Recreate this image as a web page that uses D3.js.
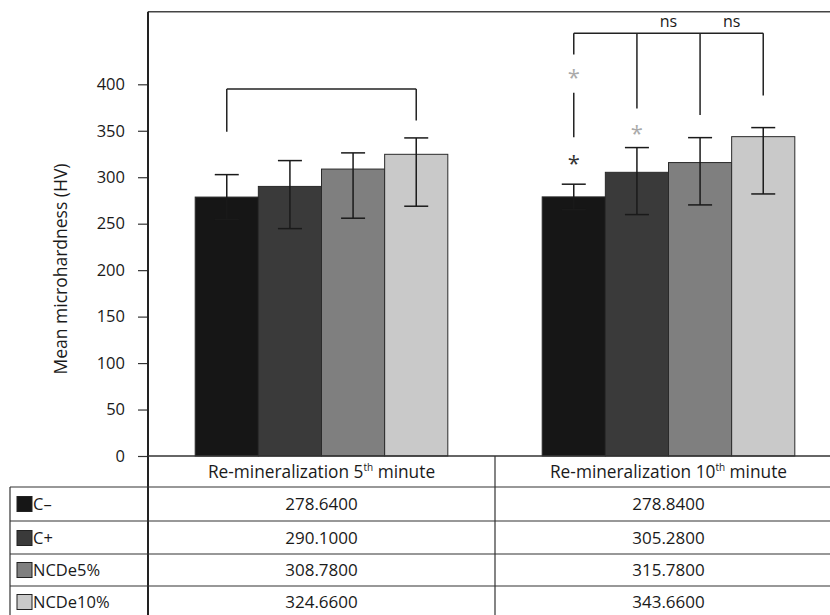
<!DOCTYPE html>
<html><head><meta charset="utf-8">
<script src="https://cdn.jsdelivr.net/npm/d3@7"></script>
<style>
body{margin:0;background:#fff;}
svg{display:block;font-family:"Open Sans",sans-serif;}
</style></head>
<body><svg id="c" width="830" height="615"></svg>
<script>
// ---- data ----
const categories = ["5th", "10th"];
const categoryLabels = [["Re-mineralization 5", "th", " minute"], ["Re-mineralization 10", "th", " minute"]];
const series = ["C\u2013", "C+", "NCDe5%", "NCDe10%"];
const colors = ["#161616", "#3a3a3a", "#7f7f7f", "#c9c9c9"];
const values5 = [278.64, 290.10, 308.78, 324.66];
const values10 = [278.84, 305.28, 315.78, 343.66];
const tableText5 = ["278.6400", "290.1000", "308.7800", "324.6600"];
const tableText10 = ["278.8400", "305.2800", "315.7800", "343.6600"];
const errUpper5 = [302.8, 317.9, 326.2, 342.3];
const errLower5 = [254.5, 244.7, 255.9, 268.8];
const errUpper10 = [292.5, 331.9, 342.6, 353.4];
const errLower10 = [265.2, 259.8, 270.2, 282.0];
const yTicks = [0, 50, 100, 150, 200, 250, 300, 350, 400];
const yLabel = "Mean microhardness (HV)";

const valuesBy = [values5, values10];
const upperBy = [errUpper5, errUpper10];
const lowerBy = [errLower5, errLower10];
const tableBy = [tableText5, tableText10];

const svg = d3.select("#c");
const y = d3.scaleLinear().domain([0, 400]).range([456, 84.3]);
const yTop = y(478);
const x0 = d3.scaleBand().domain(categories).range([148, 842]).paddingInner(0.272).paddingOuter(0.136);
const x1 = d3.scaleBand().domain(series).range([0, x0.bandwidth()]).padding(0);
const color = d3.scaleOrdinal().domain(series).range(colors);
const colStart = c => x0(c) - x0.step() * 0.136;

// frame
svg.append("line").attr("x1", 148).attr("x2", 830).attr("y1", yTop).attr("y2", yTop)
  .attr("stroke", "#444").attr("stroke-width", 1.5);

// y axis
const yAxis = d3.axisLeft(y).tickValues(yTicks).tickSize(10).tickPadding(13).tickFormat(d3.format("d"));
const ga = svg.append("g").attr("transform", "translate(148,0)").call(yAxis);
ga.select(".domain").remove();
ga.selectAll(".tick line").attr("stroke", "#333").attr("stroke-width", 1.2);
ga.selectAll(".tick text").attr("font-family", "Open Sans").attr("font-size", 16.5).attr("fill", "#1a1a1a");

svg.append("text").attr("transform", `translate(67,269) rotate(-90)`)
  .attr("text-anchor", "middle").attr("font-size", 17.5).attr("fill", "#1a1a1a").text(yLabel);

// bars
categories.forEach((c, ci) => {
  const g = svg.append("g").attr("transform", `translate(${x0(c)},0)`);
  series.forEach((s, si) => {
    const v = valuesBy[ci][si];
    g.append("rect").attr("x", x1(s)).attr("width", x1.bandwidth()).attr("y", y(v)).attr("height", y(0) - y(v))
      .attr("fill", color(s)).attr("stroke", "#2a2a2a").attr("stroke-width", 1);
  });
  series.forEach((s, si) => {
    const cx = x1(s) + x1.bandwidth() / 2;
    const hi = upperBy[ci][si], lo = lowerBy[ci][si];
    const st = "#1a1a1a";
    g.append("line").attr("x1", cx).attr("x2", cx).attr("y1", y(hi)).attr("y2", y(lo)).attr("stroke", st).attr("stroke-width", 1.5);
    [hi, lo].forEach(v => g.append("line").attr("x1", cx - 12).attr("x2", cx + 12).attr("y1", y(v)).attr("y2", y(v)).attr("stroke", st).attr("stroke-width", 1.5));
  });
});

// brackets
const bx = (c, s) => x0(c) + x1(s) + x1.bandwidth() / 2;
const lineC = (x1_, y1_, x2_, y2_) => svg.append("line").attr("x1", x1_).attr("y1", y1_).attr("x2", x2_).attr("y2", y2_)
  .attr("stroke", "#222").attr("stroke-width", 1.5);
// group 1
{
  const c = categories[0];
  const xa = bx(c, series[0]), xb = bx(c, series[3]);
  const yb = y(395);
  lineC(xa, yb, xb, yb);
  lineC(xa, yb, xa, y(349));
  lineC(xb, yb, xb, y(361));
}
// group 2
{
  const c = categories[1];
  const xs = series.map(s => bx(c, s));
  const yb = y(455);
  lineC(xs[0], yb, xs[3], yb);
  lineC(xs[0], yb, xs[0], y(432));
  lineC(xs[0], y(391), xs[0], y(343));
  lineC(xs[1], yb, xs[1], y(374));
  lineC(xs[2], yb, xs[2], y(367));
  lineC(xs[3], yb, xs[3], y(388));
  svg.append("text").attr("x", xs[0]).attr("y", y(411) + 11).attr("text-anchor", "middle").attr("font-size", 22).attr("fill", "#aaa").text("*");
  svg.append("text").attr("x", xs[0]).attr("y", y(318) + 11).attr("text-anchor", "middle").attr("font-size", 22).attr("fill", "#333").text("*");
  svg.append("text").attr("x", xs[1]).attr("y", y(351) + 11).attr("text-anchor", "middle").attr("font-size", 22).attr("fill", "#aaa").text("*");
  svg.append("text").attr("x", (xs[1] + xs[2]) / 2).attr("y", y(462)).attr("text-anchor", "middle").attr("font-size", 16).attr("fill", "#1a1a1a").text("ns");
  svg.append("text").attr("x", (xs[2] + xs[3]) / 2).attr("y", y(462)).attr("text-anchor", "middle").attr("font-size", 16).attr("fill", "#1a1a1a").text("ns");
}

// left axis line (through table)
svg.append("line").attr("x1", 148).attr("x2", 148).attr("y1", yTop).attr("y2", 615).attr("stroke", "#222").attr("stroke-width", 2);
// baseline
svg.append("line").attr("x1", 148).attr("x2", 830).attr("y1", y(0)).attr("y2", y(0)).attr("stroke", "#333").attr("stroke-width", 1.5);

// table
const rowLines = [487, 521, 554, 586];
const rowCenters = [504, 538, 570, 602];
rowLines.forEach(ry => svg.append("line").attr("x1", 10).attr("x2", 830).attr("y1", ry).attr("y2", ry).attr("stroke", "#333").attr("stroke-width", 1.2));
svg.append("line").attr("x1", 10).attr("x2", 10).attr("y1", 487).attr("y2", 615).attr("stroke", "#333").attr("stroke-width", 1.2);
svg.append("line").attr("x1", colStart(categories[1])).attr("x2", colStart(categories[1])).attr("y1", y(0)).attr("y2", 615).attr("stroke", "#333").attr("stroke-width", 1.2);

categories.forEach((c, ci) => {
  const cx = x0(c) + x0.bandwidth() / 2;
  const t = svg.append("text").attr("x", cx).attr("y", 478).attr("text-anchor", "middle").attr("font-size", 17.3).attr("fill", "#1a1a1a");
  t.append("tspan").text(categoryLabels[ci][0]);
  t.append("tspan").attr("font-size", 10).attr("dy", -7).text(categoryLabels[ci][1]);
  t.append("tspan").attr("dy", 7).text(categoryLabels[ci][2]);
  series.forEach((s, si) => {
    svg.append("text").attr("x", cx).attr("y", rowCenters[si] + 6).attr("text-anchor", "middle").attr("font-size", 17).attr("fill", "#1a1a1a").text(tableBy[ci][si]);
  });
});
series.forEach((s, si) => {
  svg.append("rect").attr("x", 17).attr("y", rowCenters[si] - 7.5).attr("width", 15).attr("height", 15)
    .attr("fill", color(s)).attr("stroke", "#222").attr("stroke-width", 1);
  svg.append("text").attr("x", 33).attr("y", rowCenters[si] + 6).attr("font-size", 16.5).attr("fill", "#1a1a1a").text(s);
});
</script></body></html>
